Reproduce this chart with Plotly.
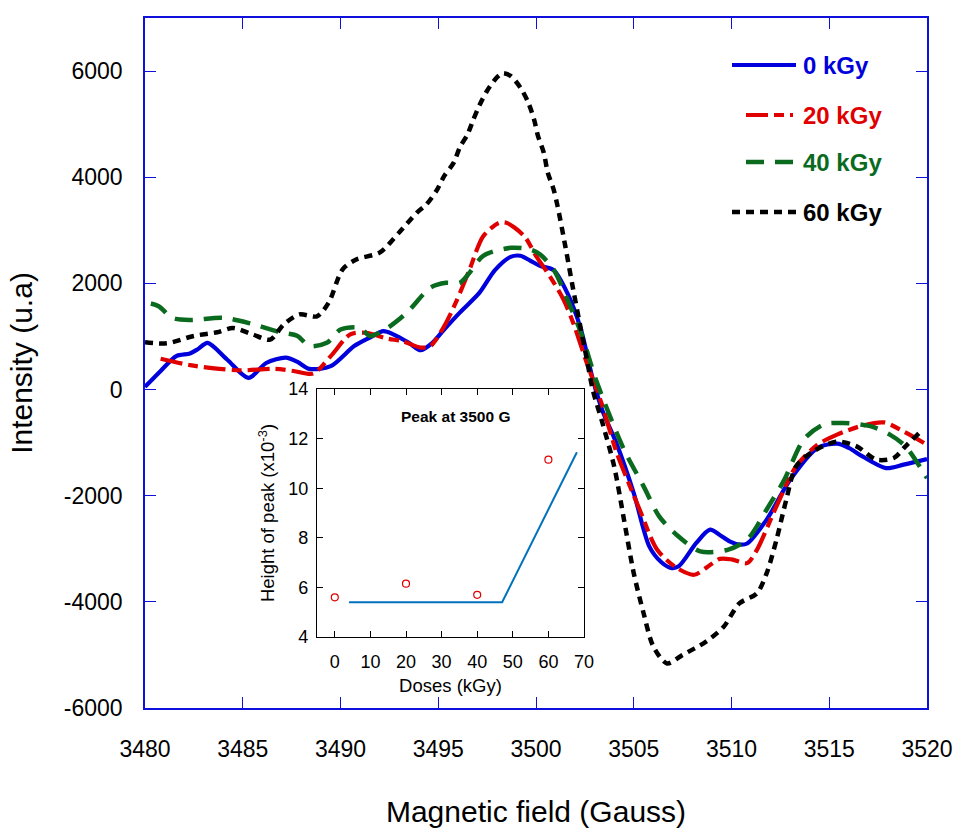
import plotly.graph_objects as go

# ---- Main EPR spectra (field in Gauss, intensity in a.u.) ----
field_0 = [3480.0, 3480.8, 3481.6, 3482.3, 3482.7, 3483.2, 3484.2, 3485.3, 3486.2, 3487.2, 3487.8,
           3488.4, 3489.5, 3490.7, 3491.5, 3492.2, 3492.7, 3493.5, 3494.1, 3494.7, 3495.3, 3496.1,
           3497.1, 3497.9, 3498.7, 3499.2, 3499.7, 3500.2, 3500.9, 3501.6, 3502.3, 3502.9, 3503.4,
           3504.1, 3505.0, 3505.8, 3506.4, 3506.9, 3507.3, 3508.2, 3508.9, 3509.4, 3509.9, 3510.4,
           3510.8, 3511.8, 3513.0, 3514.4, 3515.4, 3516.0, 3516.7, 3517.9, 3518.8, 3520.0]
int_0 = [50, 350, 630, 680, 760, 880, 566, 220, 500, 600, 520,
         390, 440, 820, 980, 1100, 1040, 880, 740, 880, 1130, 1450,
         1820, 2250, 2500, 2520, 2430, 2330, 2250, 1820, 1130, 200, -400,
         -1000, -1950, -2960, -3250, -3360, -3330, -2890, -2640, -2740, -2860, -2920,
         -2900, -2450, -1700, -1100, -1020, -1100, -1260, -1480, -1415, -1310]

field_20 = [3480.8, 3482.3, 3483.8, 3484.9, 3486.6, 3487.6, 3488.6, 3489.5, 3490.5, 3491.3, 3492.4,
            3493.2, 3494.1, 3494.6, 3495.3, 3495.9, 3496.6, 3497.3, 3498.1, 3498.5, 3499.4, 3500.0,
            3500.7, 3501.4, 3501.9, 3502.6, 3503.4, 3504.1, 3505.3, 3506.2, 3507.2, 3508.1, 3508.7,
            3509.4, 3510.0, 3510.8, 3511.3, 3512.3, 3513.3, 3514.4, 3515.4, 3516.6, 3517.8, 3518.8,
            3520.0]
int_20 = [580, 460, 390, 360, 390, 350, 300, 630, 1040, 1070, 960,
          910, 790, 820, 1190, 1640, 2260, 2890, 3140, 3140, 2890, 2520,
          2140, 1700, 1260, 500, -310, -1160, -2260, -3020, -3360, -3490, -3360,
          -3190, -3200, -3270, -3020, -2200, -1450, -1040, -850, -690, -620, -790,
          -1040]

field_40 = [3480.3, 3480.7, 3481.4, 3482.3, 3484.0, 3485.4, 3486.9, 3487.8, 3488.4, 3489.3, 3490.0,
            3491.0, 3491.5, 3492.4, 3493.4, 3494.6, 3495.4, 3496.1, 3496.6, 3497.3, 3498.7, 3499.7,
            3500.2, 3500.9, 3501.6, 3502.3, 3503.1, 3504.5, 3505.5, 3506.3, 3507.2, 3508.4, 3509.8,
            3510.8, 3511.8, 3512.7, 3513.7, 3514.7, 3515.7, 3517.1, 3518.1, 3518.9, 3520.0]
int_40 = [1620, 1570, 1350, 1310, 1350, 1245, 1080, 1010, 820, 880, 1130,
          1165, 1010, 1160, 1450, 1920, 2010, 2010, 2200, 2520, 2670, 2640,
          2550, 2260, 1700, 1070, 150, -1130, -1820, -2390, -2740, -3050, -3020,
          -2830, -2260, -1700, -940, -660, -630, -690, -850, -1070, -1670]

field_60 = [3480.0, 3481.1, 3482.5, 3483.7, 3484.5, 3485.5, 3486.4, 3487.1, 3487.9, 3488.8, 3489.4,
            3490.1, 3490.8, 3492.0, 3493.0, 3493.9, 3494.4, 3494.9, 3495.3, 3495.8, 3496.1, 3496.5,
            3496.8, 3497.1, 3497.5, 3498.0, 3498.3, 3498.7, 3499.2, 3499.6, 3499.9, 3500.1, 3500.4,
            3500.6, 3500.9, 3501.1, 3501.5, 3501.9, 3502.3, 3502.6, 3502.9, 3503.4, 3504.0, 3504.5,
            3505.0, 3505.5, 3506.0, 3506.7, 3507.5, 3508.7, 3509.6, 3510.4, 3511.3, 3511.8, 3512.3,
            3512.8, 3513.3, 3514.2, 3515.4, 3516.4, 3517.4, 3518.3, 3518.9, 3519.6]
int_60 = [890, 870, 1010, 1080, 1160, 1040, 940, 1230, 1415, 1380, 1640,
          2260, 2450, 2580, 2960, 3330, 3490, 3740, 4020, 4280, 4560, 4810,
          5090, 5350, 5630, 5880, 5960, 5910, 5690, 5410, 5090, 4780, 4460,
          4090, 3770, 3460, 2700, 1890, 1130, 570, 0, -630, -1450, -2450,
          -3460, -4210, -4840, -5160, -5000, -4750, -4470, -4030, -3840, -3460, -2830,
          -2080, -1450, -1160, -980, -1070, -1320, -1290, -1070, -820]

series_names = ["0 kGy", "20 kGy", "40 kGy", "60 kGy"]
series_colors = ["#0000dd", "#e00000", "#0a6a1e", "#000000"]
series_dash = ["solid", "22px,6px,10px,6px", "18px,11px", "8px,6px"]
series_width = [4.2, 4.2, 4.5, 4.5]

# ---- Inset data ----
doses = [0, 20, 40, 60]
peak_height = [5.6, 6.15, 5.7, 11.15]
fit_dose = [4, 47, 68]
fit_height = [5.4, 5.4, 11.45]

x_ticks_main = [3480, 3485, 3490, 3495, 3500, 3505, 3510, 3515, 3520]
y_ticks_main = [-6000, -4000, -2000, 0, 2000, 4000, 6000]
y_tick_text = ["-6000", "-4000", "-2000", "0", "2000", "4000", "6000"]

FONT = "Arial, Liberation Sans, sans-serif"
AXIS_BLUE = "#1010dd"

fig = go.Figure()
all_x = [field_0, field_20, field_40, field_60]
all_y = [int_0, int_20, int_40, int_60]
for xs, ys, nm, c, d, w in zip(all_x, all_y, series_names, series_colors, series_dash, series_width):
    fig.add_trace(go.Scatter(x=xs, y=ys, mode="lines", name=nm,
                             line=dict(color=c, dash=d, width=w, shape="spline", smoothing=0.8),
                             showlegend=False))

# inset traces
fig.add_trace(go.Scatter(x=fit_dose, y=fit_height, mode="lines", xaxis="x2", yaxis="y2",
                         line=dict(color="#0072BD", width=2), showlegend=False))
fig.add_trace(go.Scatter(x=doses, y=peak_height, mode="markers", xaxis="x2", yaxis="y2",
                         marker=dict(symbol="circle-open", size=7, color="#e00000",
                                     line=dict(width=1.2, color="#e00000")),
                         showlegend=False))

# ---- page geometry (body margin removed via post_script) ----
W, H = 957, 828
L, R, T, B = 145, 30, 18, 120
pw, ph = W - L - R, H - T - B
def px(x):
    return (x - L) / pw
def py(y):
    return (H - B - y) / ph

leg_rows = [(65, 732, 796), (115, 746, 793), (162, 746, 793), (212, 732, 796)]
shapes = []
annotations = []
for (yy, x0, x1), nm, c, d, w in zip(leg_rows, series_names, series_colors, series_dash, series_width):
    shapes.append(dict(type="line", xref="paper", yref="paper", x0=px(x0), x1=px(x1),
                       y0=py(yy), y1=py(yy), line=dict(color=c, width=w, dash=d)))
    annotations.append(dict(xref="paper", yref="paper", x=px(801), y=py(yy), text="<b>%s</b>" % nm,
                            showarrow=False, xanchor="left", yanchor="middle",
                            font=dict(family=FONT, size=24, color=c)))

annotations.append(dict(xref="x2", yref="y2", x=34, y=12.9, text="<b>Peak at 3500 G</b>",
                        showarrow=False, xanchor="center", yanchor="middle",
                        font=dict(family=FONT, size=15.5, color="black")))

fig.update_layout(
    width=W, height=H,
    margin=dict(l=L, r=R, t=T, b=B, autoexpand=False),
    paper_bgcolor="white", plot_bgcolor="white",
    font=dict(family=FONT, color="black"),
    shapes=shapes, annotations=annotations,
    xaxis=dict(range=[3480, 3520], tickvals=x_ticks_main, ticks="inside", ticklen=11,
               tickcolor=AXIS_BLUE, showline=True, linecolor=AXIS_BLUE, linewidth=1.5,
               mirror="ticks", showgrid=False, zeroline=False,
               tickfont=dict(size=23, family=FONT), ticklabelstandoff=20,
               title=dict(text="Magnetic field (Gauss)", font=dict(size=30, family=FONT), standoff=42)),
    yaxis=dict(range=[-6000, 7000], tickvals=y_ticks_main, ticktext=y_tick_text, ticks="inside",
               ticklen=11, tickcolor=AXIS_BLUE, showline=True, linecolor=AXIS_BLUE, linewidth=1.5,
               mirror="ticks", showgrid=False, zeroline=False,
               tickfont=dict(size=23, family=FONT), ticklabelstandoff=16,
               title=dict(text="Intensity (u.a)", font=dict(size=30, family=FONT), standoff=22)),
    xaxis2=dict(domain=[px(317), px(584)], anchor="y2", range=[-5, 70], dtick=10, tick0=0,
                ticks="inside", ticklen=6, tickcolor="black", showline=True, linecolor="black",
                linewidth=1.2, mirror="ticks", showgrid=False, zeroline=False,
                tickfont=dict(size=18, family=FONT), ticklabelstandoff=8,
                title=dict(text="Doses (kGy)", font=dict(size=18.5, family=FONT), standoff=8)),
    yaxis2=dict(domain=[py(637), py(389)], anchor="x2", range=[4, 14], dtick=2, tick0=4,
                ticks="inside", ticklen=6, tickcolor="black", showline=True, linecolor="black",
                linewidth=1.2, mirror="ticks", showgrid=False, zeroline=False,
                tickfont=dict(size=18, family=FONT), ticklabelstandoff=4,
                title=dict(text="Height of peak (x10<sup>-3</sup>)", font=dict(size=18.5, family=FONT),
                           standoff=8)),
)

fig.write_html("out.html", config={"displayModeBar": False},
               post_script="document.body.style.margin='0px';document.body.style.overflow='hidden';")
